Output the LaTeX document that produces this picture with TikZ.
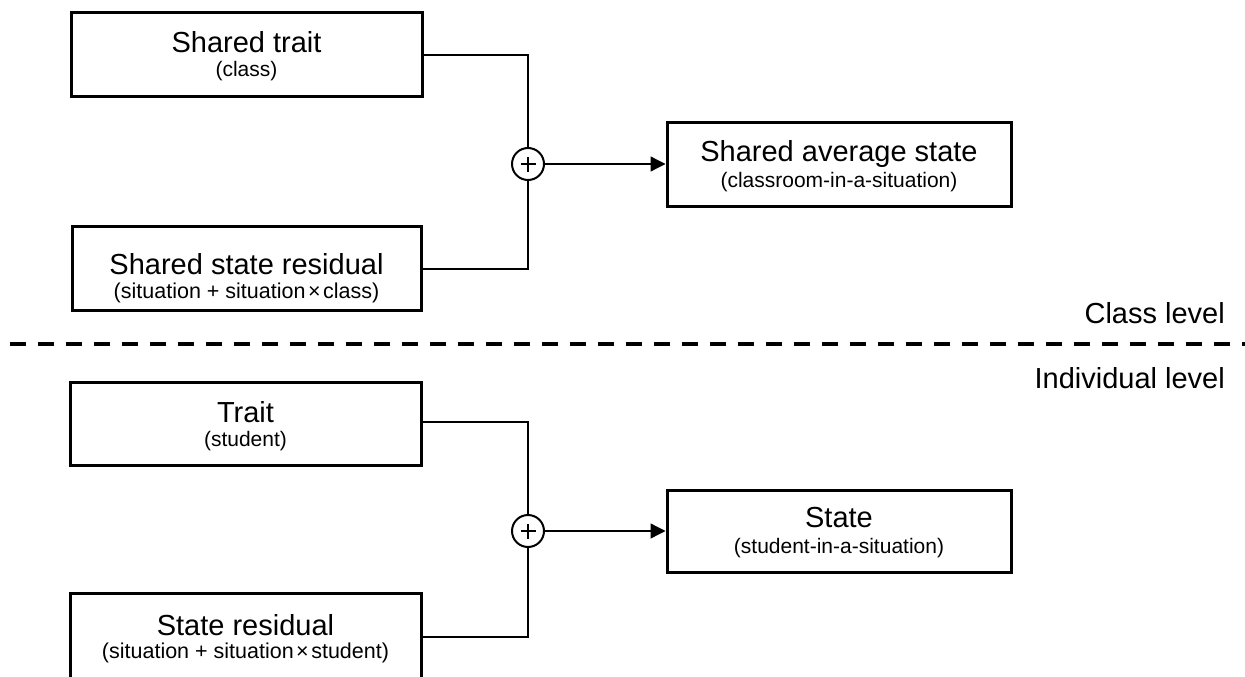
\documentclass[tikz,border=0pt]{standalone}
\usepackage{fontspec}
\setmainfont{Liberation Sans}
\usetikzlibrary{arrows.meta}
\newcommand{\crossby}{\hspace{2.5pt}×\hspace{2.5pt}}
\begin{document}
\begin{tikzpicture}[x=1pt,y=-1pt,
  box/.style={draw, line width=3pt, inner sep=0pt, rectangle},
  maintxt/.style={font=\fontsize{29}{34}\selectfont, anchor=base, inner sep=0pt},
  subtxt/.style={font=\fontsize{21}{25}\selectfont, anchor=base, inner sep=0pt},
  widesub/.style={font=\fontsize{21.5}{25}\selectfont, anchor=base, inner sep=0pt},
  conn/.style={line width=1.3pt},
  sumnode/.style={circle, draw, line width=2pt, minimum size=32pt, inner sep=0pt,
    path picture={
      \draw[line width=2pt] ([xshift=-7.5pt]path picture bounding box.center) -- ([xshift=7.5pt]path picture bounding box.center);
      \draw[line width=2pt] ([yshift=-7.5pt]path picture bounding box.center) -- ([yshift=7.5pt]path picture bounding box.center);}},
  lvl/.style={font=\fontsize{29}{34}\selectfont, anchor=base east, inner sep=0pt},
  tip/.style={-{Triangle[length=15pt,width=15pt]}}]
\useasboundingbox (0,0) rectangle (1245,677);

% ---- class level ----
\node[box, minimum width=351pt, minimum height=83pt] (st) at (246.5,54.5) {};
\node[maintxt] (stm) at (246.5,53) {Shared trait};
\node[subtxt] (sts) at (246.5,77) {(class)};

\node[box, minimum width=349pt, minimum height=84pt] (ssr) at (246.5,268) {};
\node[maintxt] (ssrm) at (246.5,274) {Shared state residual};
\node[widesub] (ssrs) at (246.5,298) {(situation + situation\crossby class)};

\node[sumnode] (p1) at (528,164) {};

\node[box, minimum width=344pt, minimum height=84pt] (sas) at (839,164) {};
\node[maintxt] (sasm) at (839,161.5) {Shared average state};
\node[subtxt] (sass) at (839,187) {(classroom-in-a-situation)};

\coordinate (stout) at (422,55);
\coordinate (ssrout) at (421,269);
\draw[conn] (stout) -| (p1.north);
\draw[conn] (ssrout) -| (p1.south);
\draw[conn, tip] (p1.east) -- (sas.west);

% ---- level divider ----
\coordinate (dl) at (10,344);
\coordinate (dr) at (1245,344);
\draw[line width=3.5pt, dash pattern=on 16pt off 12pt] (dl) -- (dr);
\node[lvl] (cl) at (1225,323) {Class level};
\node[lvl] (il) at (1225,388) {Individual level};

% ---- individual level ----
\node[box, minimum width=351pt, minimum height=83pt] (tr) at (245.5,423.5) {};
\node[maintxt] (trm) at (245.5,422) {Trait};
\node[subtxt] (trs) at (245.5,446) {(student)};

\node[box, minimum width=351pt, minimum height=87pt] (sr) at (245.5,636.5) {};
\node[maintxt] (srm) at (245.5,635) {State residual};
\node[widesub] (srs) at (245.5,658) {(situation + situation\crossby student)};

\node[sumnode] (p2) at (528,531) {};

\node[box, minimum width=344pt, minimum height=82pt] (sta) at (839,531) {};
\node[maintxt] (stam) at (839,527) {State};
\node[subtxt] (stas) at (839,553) {(student-in-a-situation)};

\coordinate (trout) at (421,422);
\coordinate (srout) at (421,637);
\draw[conn] (trout) -| (p2.north);
\draw[conn] (srout) -| (p2.south);
\draw[conn, tip] (p2.east) -- (sta.west);
\end{tikzpicture}
\end{document}
